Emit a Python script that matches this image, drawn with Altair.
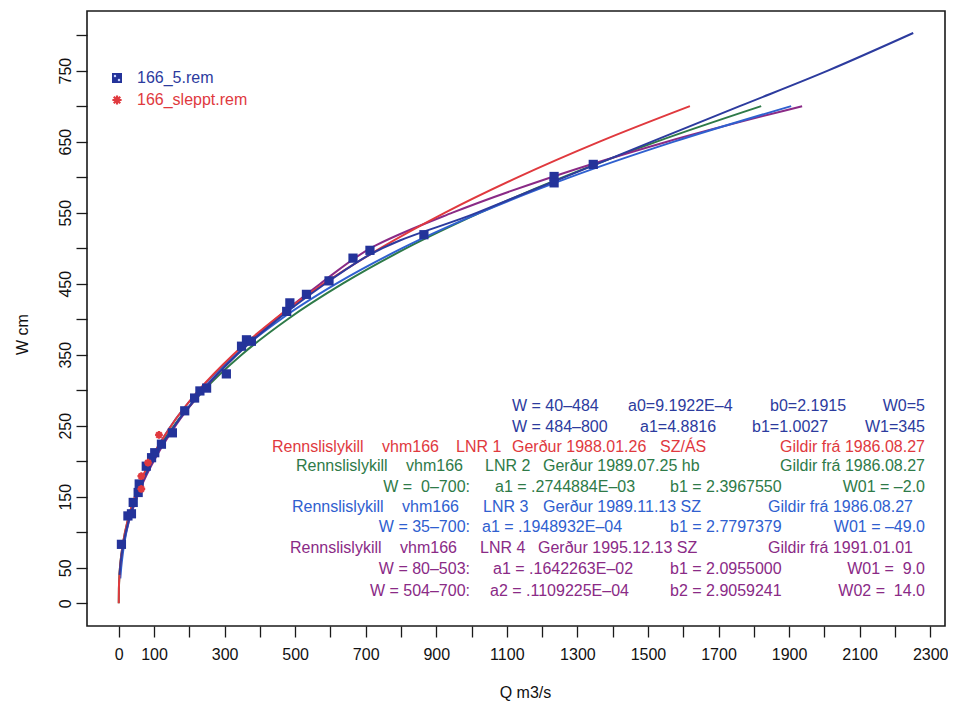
import altair as alt
import pandas as pd

# ---------------- data ----------------
# rating curves: W (cm) and Q (m3/s)
lnr1_w = [0, 20, 40, 60, 80, 100, 150, 200, 250, 300, 350, 400, 450, 500, 550, 600, 650, 700]
lnr1_q = [0, 0.4, 2.1, 5.4, 10.6, 17.7, 45.4, 88.5, 148.6, 226.7, 324.3, 442, 581, 742, 925, 1132, 1363, 1619]

lnr2_w = [0, 20, 40, 60, 80, 100, 150, 200, 250, 300, 350, 400, 450, 500, 550, 600, 650, 700]
lnr2_q = [0, 0.45, 2.1, 5.4, 10.6, 17.9, 46.5, 92.0, 156.4, 241.2, 348.3, 478.9, 634.5, 815.3, 1024.6, 1259.5, 1525, 1821]

lnr3_w = [35, 50, 75, 100, 150, 200, 250, 300, 350, 400, 450, 500, 550, 600, 650, 700]
lnr3_q = [4.35, 6.9, 12.9, 21.4, 47.9, 89.2, 148.4, 228.1, 331.0, 459.6, 616.7, 803.6, 1024.7, 1280, 1574, 1906]

lnr4_w = [80, 100, 150, 200, 250, 300, 350, 400, 450, 503, 504, 550, 600, 650, 700]
lnr4_q = [12.4, 20.9, 52.4, 98.9, 161.0, 239.1, 333.3, 444.1, 571.2, 724.6, 728.6, 946, 1226, 1554, 1937]

new_w = [40, 60, 80, 100, 150, 200, 250, 300, 350, 400, 450, 484, 550, 600, 650, 700, 750, 803]
new_q = [2.2, 6.0, 11.8, 19.8, 50.1, 95.9, 158.2, 237.7, 335.0, 450.7, 585.1, 687.4, 1015.9, 1264, 1511, 1760, 2010, 2252]

# measurements 166_5.rem
rem_q = [7.6, 26, 36, 41, 55, 58, 78, 93, 102, 121, 152, 187, 215, 230, 249, 305, 348, 362, 376,
         476, 485, 532, 596, 664, 712, 865, 1234, 1234, 1345]
rem_w = [83, 123, 126, 142, 156, 168, 193, 205, 212, 224, 240, 271, 289, 299, 303, 323, 362, 371, 369,
         411, 423, 435, 454, 486, 497, 519, 601, 592, 618]

# measurements 166_sleppt.rem
slp_q = [114, 83, 64, 64]
slp_w = [237, 198, 179, 161]

x_ticks = list(range(0, 2301, 100))
y_ticks = list(range(0, 801, 50))

NAVY = "#2c3b9e"
BLUE3 = "#2f60cf"
GREEN = "#2e7a48"
RED = "#e0393e"
PURPLE = "#8a2a86"
PTS = "#24339a"
FONT = "Liberation Sans"

# ---------------- layout ----------------
PL, PT = 87, 11          # page position of plot area
PW, PH = 858, 615

x_enc = alt.X("Q:Q", scale=alt.Scale(domain=[-90, 2342], nice=False, zero=False),
              axis=alt.Axis(values=x_ticks, format="d",
                            labelExpr="(datum.value == 0 || datum.value % 200 == 100) ? datum.label : ''",
                            title="Q m3/s", titleX=525 - PL, titleY=692 - (PT + PH),
                            titleAlign="center", titleBaseline="middle",
                            labelPadding=9, labelAngle=0))
y_enc = alt.Y("W:Q", scale=alt.Scale(domain=[-32, 834], nice=False, zero=False),
              axis=alt.Axis(values=y_ticks, format="d",
                            labelExpr="(datum.value == 0 || datum.value % 100 == 50) ? datum.label : ''",
                            title="W cm", titleX=22 - PL, titleY=334 - PT, titleAngle=270,
                            titleAlign="center", titleBaseline="middle",
                            labelAngle=270, labelAlign="center", labelBaseline="bottom",
                            labelPadding=3))


def curve(w, q, color):
    df = pd.DataFrame({"W": w, "Q": q})
    return alt.Chart(df).mark_line(color=color, strokeWidth=2, interpolate="monotone").encode(
        x=x_enc, y=y_enc)


layers = [
    curve(lnr2_w, lnr2_q, GREEN),
    curve(lnr4_w, lnr4_q, PURPLE),
    curve(lnr3_w, lnr3_q, BLUE3),
    curve(lnr1_w, lnr1_q, RED),
    curve(new_w, new_q, NAVY),
]

pts = pd.DataFrame({"Q": rem_q, "W": rem_w})
layers.append(alt.Chart(pts).mark_square(size=85, color=PTS, opacity=1).encode(x=x_enc, y=y_enc))

ASTER = "M-1,0L1,0M0,-1L0,1M-0.7,-0.7L0.7,0.7M-0.7,0.7L0.7,-0.7"
slp = pd.DataFrame({"Q": slp_q, "W": slp_w})
layers.append(alt.Chart(slp).mark_point(shape=ASTER, filled=False, stroke=RED, strokeWidth=2.2,
                                        size=60, opacity=1).encode(x=x_enc, y=y_enc))

# ---------------- annotation text ----------------
NB = "\u00a0"
segments = [
    # text, page x, page y, align, color
    ("W = 40–484", 512, 406, "left", NAVY), ("a0=9.1922E–4", 628, 406, "left", NAVY),
    ("b0=2.1915", 770, 406, "left", NAVY), ("W0=5", 925, 406, "right", NAVY),
    ("W = 484–800", 512, 427, "left", NAVY), ("a1=4.8816", 640, 427, "left", NAVY),
    ("b1=1.0027", 752, 427, "left", NAVY), ("W1=345", 925, 427, "right", NAVY),
    ("Rennslislykill", 272, 447, "left", RED), ("vhm166", 382, 447, "left", RED),
    ("LNR 1", 456, 447, "left", RED), ("Gerður 1988.01.26", 512, 447, "left", RED),
    ("SZ/ÁS", 660, 447, "left", RED), ("Gildir frá 1986.08.27", 925, 447, "right", RED),
    ("Rennslislykill", 296, 466, "left", GREEN), ("vhm166", 406, 466, "left", GREEN),
    ("LNR 2", 485, 466, "left", GREEN), ("Gerður 1989.07.25 hb", 543, 466, "left", GREEN),
    ("Gildir frá 1986.08.27", 925, 466, "right", GREEN),
    ("W =" + NB + " 0–700:", 470, 487, "right", GREEN), ("a1 = .2744884E–03", 495, 487, "left", GREEN),
    ("b1 = 2.3967550", 670, 487, "left", GREEN), ("W01 = –2.0", 925, 487, "right", GREEN),
    ("Rennslislykill", 292, 507, "left", BLUE3), ("vhm166", 402, 507, "left", BLUE3),
    ("LNR 3", 483, 507, "left", BLUE3), ("Gerður 1989.11.13 SZ", 543, 507, "left", BLUE3),
    ("Gildir frá 1986.08.27", 913, 507, "right", BLUE3),
    ("W = 35–700:", 470, 527, "right", BLUE3), ("a1 = .1948932E–04", 482, 527, "left", BLUE3),
    ("b1 = 2.7797379", 670, 527, "left", BLUE3), ("W01 = –49.0", 925, 527, "right", BLUE3),
    ("Rennslislykill", 290, 548, "left", PURPLE), ("vhm166", 400, 548, "left", PURPLE),
    ("LNR 4", 480, 548, "left", PURPLE), ("Gerður 1995.12.13 SZ", 538, 548, "left", PURPLE),
    ("Gildir frá 1991.01.01", 913, 548, "right", PURPLE),
    ("W = 80–503:", 470, 569, "right", PURPLE), ("a1 = .1642263E–02", 493, 569, "left", PURPLE),
    ("b1 = 2.0955000", 670, 569, "left", PURPLE), ("W01 =" + NB + " 9.0", 925, 569, "right", PURPLE),
    ("W = 504–700:", 470, 591, "right", PURPLE), ("a2 = .1109225E–04", 490, 591, "left", PURPLE),
    ("b2 = 2.9059241", 670, 591, "left", PURPLE), ("W02 =" + NB + " 14.0", 925, 591, "right", PURPLE),
    # legend labels
    ("166_5.rem", 137, 78, "left", NAVY), ("166_sleppt.rem", 137, 100, "left", RED),
]
tdf = pd.DataFrame(segments, columns=["txt", "px", "py", "al", "col"])
tdf["px"] = tdf["px"] - PL
tdf["py"] = tdf["py"] - PT

for al in ["left", "right"]:
    sub = tdf[tdf["al"] == al]
    layers.append(alt.Chart(sub).mark_text(align=al, baseline="middle", fontSize=16, font=FONT).encode(
        x=alt.X("px:Q", scale=None), y=alt.Y("py:Q", scale=None),
        color=alt.Color("col:N", scale=None), text="txt:N"))

one = alt.Data(values=[{"a": 1}])
layers.append(alt.Chart(one).mark_square(size=100, color=PTS, opacity=1).encode(
    x=alt.value(117 - PL), y=alt.value(78 - PT)))
layers.append(alt.Chart(one).mark_point(shape="circle", filled=True, size=6, color="#c9d3ff", opacity=1).encode(
    x=alt.value(115 - PL), y=alt.value(76 - PT)))
layers.append(alt.Chart(one).mark_point(shape="circle", filled=True, size=6, color="#c9d3ff", opacity=1).encode(
    x=alt.value(119 - PL), y=alt.value(80 - PT)))
layers.append(alt.Chart(one).mark_point(shape=ASTER, filled=False, stroke=RED, strokeWidth=2.2,
                                        size=85, opacity=1).encode(
    x=alt.value(117 - PL), y=alt.value(100 - PT)))

chart = alt.layer(*layers).properties(
    width=PW, height=PH,
    padding={"left": PL - 8, "top": PT - 8, "right": 940 - (PL - 8) - PW, "bottom": 695 - (PT - 8) - PH},
    autosize=alt.AutoSizeParams(type="none"),
    background="white",
).configure_view(
    stroke="#1a1a1a", strokeWidth=1.6
).configure_axis(
    grid=False, domain=False, ticks=True, tickSize=11, tickColor="#1a1a1a", tickWidth=1.3,
    labelFont=FONT, labelFontSize=16, labelColor="#111",
    titleFont=FONT, titleFontSize=16, titleFontWeight="normal", titleColor="#111",
    labelOverlap=False,
)

chart.save("out.html", embed_options={"renderer": "svg", "actions": False})
